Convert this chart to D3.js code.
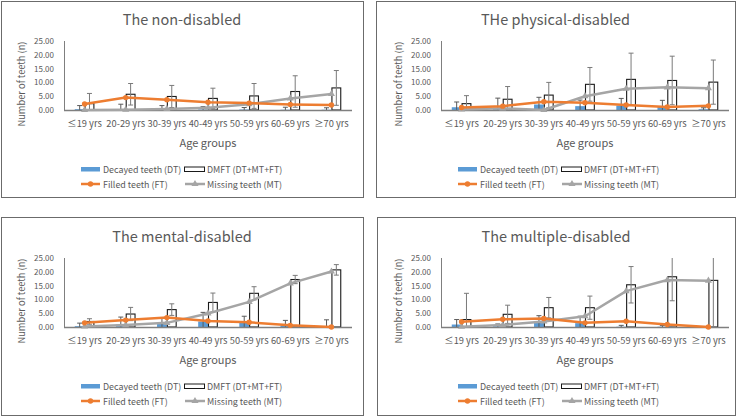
<!DOCTYPE html>
<html>
<head>
<meta charset="utf-8">
<script src="https://cdnjs.cloudflare.com/ajax/libs/d3/7.8.5/d3.min.js"></script>
<style>
  html, body { margin: 0; padding: 0; background: #ffffff; }
  svg { display: block; font-family: "Noto Sans CJK KR", "Noto Sans", sans-serif; }
</style>
</head>
<body>
<svg id="chart" width="740" height="416"></svg>
<script>
// ---------- data ----------
const categories = ["≤19 yrs", "20-29 yrs", "30-39 yrs", "40-49 yrs", "50-59 yrs", "60-69 yrs", "≥70 yrs"];
const yTicks = [0, 5, 10, 15, 20, 25];
const titles = ["The non-disabled", "THe physical-disabled", "The mental-disabled", "The multiple-disabled"];
const seriesNames = ["Decayed teeth (DT)", "DMFT (DT+MT+FT)", "Filled teeth (FT)", "Missing teeth (MT)"];

// The non-disabled
const dtNon      = [0.3, 0.3, 0.3, 0.2, 0.2, 0.1, 0.1];
const dtNonSD    = [1.3, 1.8, 1.3, 1.0, 0.7, 0.9, 0.7];
const dmftNon    = [2.3, 5.7, 4.9, 4.2, 5.1, 6.7, 8.0];
const dmftNonSD  = [3.7, 3.9, 4.0, 3.7, 4.5, 5.7, 6.3];
const ftNon      = [2.2, 4.5, 3.7, 2.8, 2.5, 2.0, 1.8];
const mtNon      = [0.0, 0.1, 0.4, 0.8, 2.1, 4.2, 5.8];

// The physical-disabled
const dtPhy      = [1.0, 0.6, 2.0, 1.4, 1.6, 1.2, 0.3];
const dtPhySD    = [1.9, 3.7, 2.6, 2.2, 2.6, 2.3, 0.5];
const dmftPhy    = [2.3, 3.9, 5.4, 9.3, 11.1, 10.7, 10.1];
const dmftPhySD  = [2.9, 4.6, 4.6, 6.1, 9.5, 8.8, 8.0];
const ftPhy      = [0.9, 1.4, 3.0, 2.6, 1.8, 1.1, 1.5];
const mtPhy      = [0.2, 0.6, 0.0, 5.0, 7.7, 8.2, 7.9];

// The mental-disabled
const dtMen      = [0.3, 0.9, 1.4, 2.0, 1.7, 0.6, 0.1];
const dtMenSD    = [1.1, 2.7, 2.0, 3.3, 2.2, 1.8, 2.5];
const dmftMen    = [2.0, 4.7, 6.3, 8.9, 12.2, 17.2, 20.7];
const dmftMenSD  = [1.0, 2.4, 2.1, 3.4, 2.4, 1.5, 1.9];
const ftMen      = [1.5, 2.5, 3.4, 2.2, 1.7, 0.6, 0.0];
const mtMen      = [0.2, 0.7, 1.5, 4.9, 9.1, 15.8, 20.1];

// The multiple-disabled
const dtMul      = [0.9, 0.3, 1.5, 1.4, 0.1, 0.1, 0.0];
const dtMulSD    = [1.8, 0.8, 2.6, 2.5, 0.5, 0.4, 0.0];
const dmftMul    = [2.7, 4.6, 7.0, 7.0, 15.3, 18.2, 16.9];
const dmftMulSD  = [9.5, 3.3, 3.7, 4.2, 6.6, 8.7, 17.5];
const ftMul      = [1.9, 2.8, 3.1, 1.5, 2.1, 0.9, 0.0];
const mtMul      = [0.1, 0.7, 2.0, 3.9, 13.0, 17.0, 16.8];

// ---------- layout / style ----------
const colDT = "#5B9BD5", colFT = "#ED7D31", colMT = "#A5A5A5";
const textCol = "#595959";
const FONT = "'Noto Sans CJK KR', 'Noto Sans', sans-serif";
const layout = [
  {dx: 0,   dy: 0,   box: [1, 1, 362, 196]},
  {dx: 377, dy: 0,   box: [376, 1, 359, 196]},
  {dx: 0,   dy: 217, box: [1, 217, 362, 198]},
  {dx: 377, dy: 217, box: [377, 217, 358, 198]}
];
const panelData = [
  {dt: dtNon, dtSD: dtNonSD, dmft: dmftNon, dmftSD: dmftNonSD, ft: ftNon, mt: mtNon},
  {dt: dtPhy, dtSD: dtPhySD, dmft: dmftPhy, dmftSD: dmftPhySD, ft: ftPhy, mt: mtPhy},
  {dt: dtMen, dtSD: dtMenSD, dmft: dmftMen, dmftSD: dmftMenSD, ft: ftMen, mt: mtMen},
  {dt: dtMul, dtSD: dtMulSD, dmft: dmftMul, dmftSD: dmftMulSD, ft: ftMul, mt: mtMul}
];

const svg = d3.select("#chart");

const x = d3.scaleBand().domain(categories).range([64, 352]).padding(0);
const y = d3.scaleLinear().domain([0, 25]).range([110, 41]);
const barW = x.bandwidth() / (2 + 2.19);
const cx = c => x(c) + x.bandwidth() / 2;

function drawPanel(i) {
  const L = layout[i], D = panelData[i];
  // border
  svg.append("rect")
    .attr("x", L.box[0] + 0.5).attr("y", L.box[1] + 0.5)
    .attr("width", L.box[2]).attr("height", L.box[3])
    .attr("fill", "none").attr("stroke", "#6b6b6b").attr("stroke-width", 1);

  const g = svg.append("g").attr("transform", `translate(${L.dx},${L.dy})`);

  // title
  g.append("text")
    .attr("x", L.box[0] - L.dx + L.box[2] / 2).attr("y", 25)
    .attr("text-anchor", "middle").attr("font-size", 14.5).attr("fill", textCol)
    .text(titles[i]);

  // y axis
  const yAxis = g.append("g").attr("transform", "translate(64,0)")
    .call(d3.axisLeft(y).tickValues(yTicks).tickFormat(d3.format(".2f")).tickSize(0).tickPadding(10));
  yAxis.select(".domain").attr("stroke", "#7f7f7f").attr("d", `M0.5,${y(0)}V${y(25)}`);
  yAxis.selectAll("text").attr("font-size", 8).attr("fill", textCol).attr("font-family", FONT);

  // x axis labels
  const xAxis = g.append("g").attr("transform", `translate(0,${y(0)})`)
    .call(d3.axisBottom(x).tickSize(0).tickPadding(10));
  xAxis.select(".domain").remove();
  xAxis.selectAll("text").attr("font-size", 9.3).attr("fill", textCol).attr("font-family", FONT);

  // axis titles
  g.append("text")
    .attr("transform", "translate(25,84) rotate(-90)")
    .attr("text-anchor", "middle").attr("font-size", 9.3).attr("fill", textCol)
    .text("Number of teeth (n)");
  g.append("text")
    .attr("x", 208).attr("y", 147)
    .attr("text-anchor", "middle").attr("font-size", 11).attr("fill", textCol)
    .text("Age groups");

  // DT bars
  g.selectAll(".dt").data(categories).join("rect")
    .attr("x", c => cx(c) - barW).attr("width", barW)
    .attr("y", (c, k) => y(D.dt[k])).attr("height", (c, k) => y(0) - y(D.dt[k]))
    .attr("fill", colDT);
  // DMFT bars
  g.selectAll(".dmft").data(categories).join("rect")
    .attr("x", c => cx(c) + 0.5).attr("width", barW - 1)
    .attr("y", (c, k) => y(D.dmft[k])).attr("height", (c, k) => y(0) - y(D.dmft[k]))
    .attr("fill", "#ffffff").attr("stroke", "#1a1a1a").attr("stroke-width", 1.1);

  // error bars
  function errBars(vals, sds, xoff, color) {
    categories.forEach((c, k) => {
      if (!sds[k]) return;
      const xc = cx(c) + xoff;
      const hi = vals[k] + sds[k], lo = vals[k] - sds[k];
      const yh = y(Math.min(hi, 25)), yl = y(Math.max(lo, 0));
      g.append("line").attr("x1", xc).attr("x2", xc).attr("y1", yh).attr("y2", yl)
        .attr("stroke", color).attr("stroke-width", 1);
      if (hi <= 25) g.append("line").attr("x1", xc - 2.5).attr("x2", xc + 2.5).attr("y1", yh).attr("y2", yh)
        .attr("stroke", color).attr("stroke-width", 1);
      if (lo >= 0) g.append("line").attr("x1", xc - 2.5).attr("x2", xc + 2.5).attr("y1", yl).attr("y2", yl)
        .attr("stroke", color).attr("stroke-width", 1);
    });
  }
  errBars(D.dt, D.dtSD, -barW / 2, "#5a5a5a");
  errBars(D.dmft, D.dmftSD, barW / 2, "#7a7a7a");

  // x axis line
  g.append("line").attr("x1", 64).attr("x2", 352).attr("y1", y(0) + 0.5).attr("y2", y(0) + 0.5)
    .attr("stroke", "#7f7f7f").attr("stroke-width", 1.3);

  // lines
  const line = d3.line().x((v, k) => cx(categories[k])).y(v => y(v));
  g.append("path").datum(D.mt).attr("d", line).attr("fill", "none")
    .attr("stroke", colMT).attr("stroke-width", 2.5).attr("stroke-linejoin", "round");
  g.selectAll(".mtp").data(D.mt).join("path")
    .attr("transform", (v, k) => `translate(${cx(categories[k])},${y(v)})`)
    .attr("d", d3.symbol(d3.symbolTriangle, 22)).attr("fill", colMT);
  g.append("path").datum(D.ft).attr("d", line).attr("fill", "none")
    .attr("stroke", colFT).attr("stroke-width", 2.5).attr("stroke-linejoin", "round");
  g.selectAll(".ftp").data(D.ft).join("circle")
    .attr("cx", (v, k) => cx(categories[k])).attr("cy", v => y(v)).attr("r", 2.7)
    .attr("fill", colFT);

  // legend
  const lg = g.append("g").attr("font-size", 8.9).attr("fill", textCol);
  lg.append("rect").attr("x", 81).attr("y", 167).attr("width", 19).attr("height", 4.5).attr("fill", colDT);
  lg.append("text").attr("x", 103).attr("y", 172.5).text(seriesNames[0]);
  lg.append("rect").attr("x", 184.5).attr("y", 167).attr("width", 20).attr("height", 4.5)
    .attr("fill", "#fff").attr("stroke", "#1a1a1a").attr("stroke-width", 1);
  lg.append("text").attr("x", 207).attr("y", 172.5).text(seriesNames[1]);
  lg.append("line").attr("x1", 81).attr("x2", 100).attr("y1", 184).attr("y2", 184)
    .attr("stroke", colFT).attr("stroke-width", 2.5);
  lg.append("circle").attr("cx", 90.5).attr("cy", 184).attr("r", 2.7).attr("fill", colFT);
  lg.append("text").attr("x", 103).attr("y", 187.5).text(seriesNames[2]);
  lg.append("line").attr("x1", 185).attr("x2", 205).attr("y1", 184).attr("y2", 184)
    .attr("stroke", colMT).attr("stroke-width", 2.5);
  lg.append("path").attr("transform", "translate(195,184)")
    .attr("d", d3.symbol(d3.symbolTriangle, 22)).attr("fill", colMT);
  lg.append("text").attr("x", 207).attr("y", 187.5).text(seriesNames[3]);
}

[0, 1, 2, 3].forEach(drawPanel);
</script>
</body>
</html>
